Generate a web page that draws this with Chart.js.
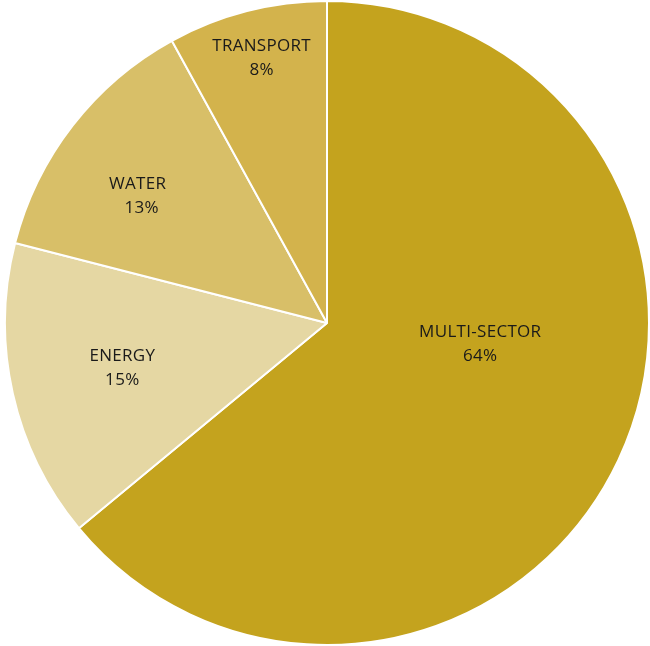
<!DOCTYPE html>
<html>
<head>
<meta charset="utf-8">
<script src="https://cdn.jsdelivr.net/npm/chart.js@4.4.0/dist/chart.umd.min.js"></script>
<style>
  html, body { margin: 0; padding: 0; background: #fff; }
  #wrap { width: 650px; height: 646px; position: relative; }
</style>
</head>
<body>
<div id="wrap"><canvas id="sectorChart"></canvas></div>
<script>
// Chart data
const categories = ['MULTI-SECTOR', 'ENERGY', 'WATER', 'TRANSPORT'];
const shares = [64, 15, 13, 8];
const sliceColors = ['#C4A31E', '#E5D7A3', '#D8BF68', '#D3B34C'];
// where the label sits inside each slice (fraction of sweep, fraction of radius)
const labelSweep = [0.423, 0.51, 0.42, 0.52];
const labelRadius = [0.48, 0.65, 0.71, 0.85];

// Draws "NAME / xx%" inside each slice
const sliceLabels = {
  id: 'sliceLabels',
  afterDatasetsDraw(chart) {
    const ctx = chart.ctx;
    const arcs = chart.getDatasetMeta(0).data;
    ctx.save();
    ctx.font = '17px "Open Sans", sans-serif';
    ctx.letterSpacing = '0.3px';
    ctx.fillStyle = '#1a1a1a';
    ctx.textAlign = 'center';
    ctx.textBaseline = 'middle';
    arcs.forEach((arc, i) => {
      const a = arc.startAngle + labelSweep[i] * (arc.endAngle - arc.startAngle);
      const r = labelRadius[i] * arc.outerRadius;
      const x = arc.x + Math.cos(a) * r;
      const y = arc.y + Math.sin(a) * r;
      ctx.fillText(chart.data.labels[i], x, y - 11);
      ctx.fillText(shares[i] + '%', x + (i === 2 ? 4 : 0), y + 13);
    });
    ctx.restore();
  }
};

new Chart(document.getElementById('sectorChart'), {
  type: 'pie',
  data: {
    labels: categories,
    datasets: [{
      data: shares,
      backgroundColor: sliceColors,
      borderColor: '#ffffff',
      borderWidth: 2
    }]
  },
  options: {
    responsive: true,
    maintainAspectRatio: false,
    animation: false,
    layout: { padding: { left: 4 } },
    plugins: {
      legend: { display: false },
      tooltip: { enabled: false }
    }
  },
  plugins: [sliceLabels]
});
</script>
</body>
</html>
